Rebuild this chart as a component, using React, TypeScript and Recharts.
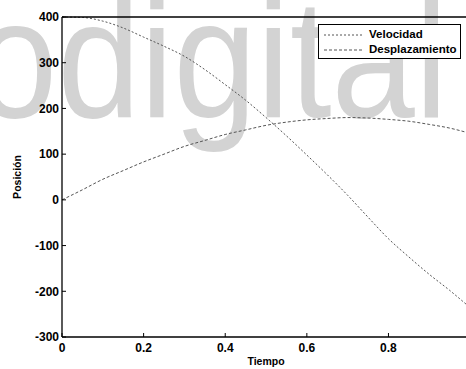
import { LineChart, Line, XAxis, YAxis } from 'recharts'

// time (s)
const tiempo = [0, 0.05, 0.1, 0.15, 0.2, 0.25, 0.3, 0.35, 0.4, 0.45, 0.5, 0.55, 0.6, 0.65, 0.7, 0.75, 0.8, 0.85, 0.9, 0.95, 0.99]
const velocidad = [400, 399, 391, 376, 356, 336, 314, 285, 252, 218, 180, 140, 98, 55, 10, -38, -85, -125, -163, -198, -228]
const desplazamiento = [0, 22, 45, 64, 83, 100, 117, 130, 143, 153, 163, 170, 175, 178, 180, 179, 176, 172, 165, 157, 148]

const xTicks = [0, 0.2, 0.4, 0.6, 0.8]
const yTicks = [-300, -200, -100, 0, 100, 200, 300, 400]

const series = [
  { key: 'vel', name: 'Velocidad', dash: '2 2' },
  { key: 'desp', name: 'Desplazamiento', dash: '3 2' },
]

const data = tiempo.map((t, i) => ({
  t,
  vel: velocidad[i],
  desp: desplazamiento[i],
}))

const FONT = '"Liberation Sans", Arial, Helvetica, sans-serif'
const tickStyle = { fontSize: 12, fontWeight: 700, fill: '#000', fontFamily: FONT }
const axisLine = { stroke: '#000', strokeWidth: 1.3 }
const tickLine = { stroke: '#000', strokeWidth: 1 }

function LegendBox() {
  return (
    <div
      style={{
        position: 'absolute',
        left: 318,
        top: 24,
        width: 143,
        height: 35,
        background: '#fff',
        border: '1px solid #000',
        boxSizing: 'border-box',
        fontFamily: FONT,
        fontSize: 11.5,
        fontWeight: 700,
        paddingTop: 2,
        lineHeight: '15px',
      }}
    >
      {series.map((r) => (
        <div key={r.name} style={{ display: 'flex', alignItems: 'center', height: 15 }}>
          <svg width={50} height={6} style={{ flex: 'none' }}>
            <line x1={5} y1={3} x2={45} y2={3} stroke="#555" strokeDasharray={r.dash} />
          </svg>
          <span>{r.name}</span>
        </div>
      ))}
    </div>
  )
}

export default function App() {
  return (
    <div style={{ position: 'absolute', left: 0, top: 0, width: 466, height: 369, overflow: 'hidden', background: '#fff' }}>
      {/* scan watermark, sits behind the plot */}
      <svg width={466} height={369} style={{ position: 'absolute', left: 0, top: 0 }}>
        <text
          x={-26}
          y={117}
          fontFamily={FONT}
          fontSize={168}
          fill="#d3d3d3"
          textLength={474}
          lengthAdjust="spacingAndGlyphs"
        >
          odigital
        </text>
      </svg>

      <div style={{ position: 'absolute', left: 0, top: 0 }}>
        <LineChart width={468} height={369} data={data} margin={{ top: 16, right: 1, left: 61, bottom: 0 }}>
          <XAxis
            dataKey="t"
            type="number"
            domain={[0, 0.99]}
            ticks={xTicks}
            allowDataOverflow
            height={32}
            tickSize={-4}
            tickMargin={10}
            tick={tickStyle}
            axisLine={axisLine}
            tickLine={tickLine}
            label={() => (
              <text x={266} y={365} textAnchor="middle" fontFamily={FONT} fontSize={10.5} fontWeight={600} fill="#000">
                Tiempo
              </text>
            )}
          />
          <XAxis
            xAxisId="top"
            orientation="top"
            dataKey="t"
            type="number"
            domain={[0, 0.99]}
            ticks={xTicks}
            allowDataOverflow
            height={1}
            tickSize={-4}
            tick={false}
            axisLine={axisLine}
            tickLine={tickLine}
          />
          <YAxis
            type="number"
            domain={[-300, 400]}
            ticks={yTicks}
            width={1}
            tickSize={-4}
            tickMargin={7}
            tick={tickStyle}
            axisLine={axisLine}
            tickLine={tickLine}
            label={() => (
              <text
                x={21}
                y={177}
                transform="rotate(-90 21 177)"
                textAnchor="middle"
                fontFamily={FONT}
                fontSize={10.5}
                fontWeight={600}
                fill="#000"
              >
                Posición
              </text>
            )}
          />
          <YAxis
            yAxisId="right"
            orientation="right"
            type="number"
            domain={[-300, 400]}
            ticks={yTicks}
            width={1}
            tickSize={-4}
            tick={false}
            axisLine={false}
            tickLine={tickLine}
          />
          {series.map((s) => (
            <Line
              key={s.key}
              type="monotone"
              dataKey={s.key}
              name={s.name}
              stroke="#555"
              strokeWidth={1}
              strokeDasharray={s.dash}
              dot={false}
              isAnimationActive={false}
            />
          ))}
        </LineChart>
      </div>
      <LegendBox />
    </div>
  )
}
